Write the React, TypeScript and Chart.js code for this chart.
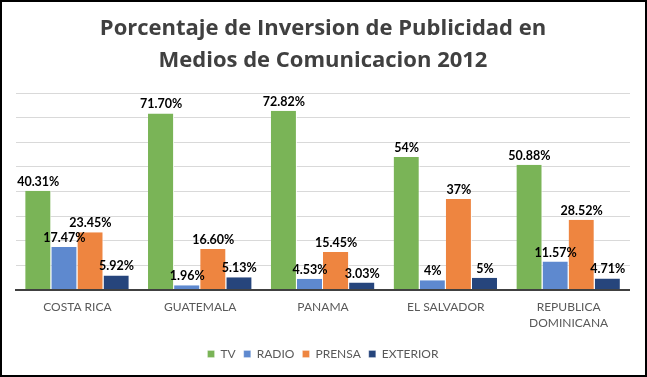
import React, { useEffect, useRef } from 'react';
import { Chart, registerables } from 'chart.js';

Chart.register(...registerables);

const titleLines = ['Porcentaje de Inversion de Publicidad en', 'Medios de Comunicacion 2012'];
const categories = [['COSTA RICA'], ['GUATEMALA'], ['PANAMA'], ['EL SALVADOR'], ['REPUBLICA', 'DOMINICANA']];
const seriesNames = ['TV', 'RADIO', 'PRENSA', 'EXTERIOR'];

const tvValues = [40.31, 71.7, 72.82, 54, 50.88];
const radioValues = [17.47, 1.96, 4.53, 4, 11.57];
const prensaValues = [23.45, 16.6, 15.45, 37, 28.52];
const exteriorValues = [5.92, 5.13, 3.03, 5, 4.71];

const tvLabels = ['40.31%', '71.70%', '72.82%', '54%', '50.88%'];
const radioLabels = ['17.47%', '1.96%', '4.53%', '4%', '11.57%'];
const prensaLabels = ['23.45%', '16.60%', '15.45%', '37%', '28.52%'];
const exteriorLabels = ['5.92%', '5.13%', '3.03%', '5%', '4.71%'];

const yMin = 0;
const yMax = 80;
const yStep = 10;

const colors = ['#7AB457', '#5E89CF', '#EE8540', '#26457C'];
const FONT = 'Lato';
const TITLE_FONT = 'Open Sans';

const allValues = [tvValues, radioValues, prensaValues, exteriorValues];
const allLabels = [tvLabels, radioLabels, prensaLabels, exteriorLabels];

const dataLabelPlugin = {
  id: 'dataLabelPlugin',
  afterDatasetsDraw(chart: any) {
    const ctx = chart.ctx;
    ctx.save();
    ctx.font = `bold 12.5px ${FONT}`;
    ctx.fillStyle = '#000000';
    ctx.textAlign = 'center';
    ctx.textBaseline = 'alphabetic';
    chart.data.datasets.forEach((ds: any, di: number) => {
      const meta = chart.getDatasetMeta(di);
      meta.data.forEach((bar: any, i: number) => {
        const txt = allLabels[di][i];
        ctx.fillText(txt, bar.x, bar.y - 5);
      });
    });
    ctx.restore();
  },
};

const baselinePlugin = {
  id: 'baselinePlugin',
  afterDatasetsDraw(chart: any) {
    const { ctx, chartArea } = chart;
    ctx.save();
    ctx.strokeStyle = '#404040';
    ctx.lineWidth = 2;
    ctx.beginPath();
    ctx.moveTo(chartArea.left - 1, chartArea.bottom);
    ctx.lineTo(chartArea.right, chartArea.bottom);
    ctx.stroke();
    ctx.restore();
  },
};

const framePlugin = {
  id: 'framePlugin',
  beforeDraw(chart: any) {
    const ctx = chart.ctx;
    ctx.save();
    ctx.fillStyle = '#ffffff';
    ctx.fillRect(0, 0, chart.width, chart.height);
    ctx.restore();
  },
  afterDraw(chart: any) {
    const ctx = chart.ctx;
    ctx.save();
    ctx.strokeStyle = '#000000';
    ctx.lineWidth = 2;
    ctx.strokeRect(1, 1, chart.width - 2, chart.height - 2);
    ctx.restore();
  },
};

export default function App() {
  const ref = useRef<HTMLCanvasElement | null>(null);

  useEffect(() => {
    if (!ref.current) return;
    const chart = new Chart(ref.current, {
      type: 'bar',
      data: {
        labels: categories,
        datasets: seriesNames.map((name, i) => ({
          label: name,
          data: allValues[i],
          backgroundColor: colors[i],
          borderColor: '#ffffff',
          borderWidth: { left: 0, right: 1, top: 0, bottom: 0 },
          borderSkipped: false,
          categoryPercentage: 0.85,
          barPercentage: 1,
        })),
      },
      options: {
        animation: false,
        responsive: false,
        devicePixelRatio: 1,
        layout: { padding: { left: 16, right: 17, top: 0, bottom: 7 } },
        plugins: {
          title: {
            display: true,
            text: titleLines,
            color: '#404040',
            font: { family: TITLE_FONT, size: 22, weight: 'bold', lineHeight: 32 / 22 },
            padding: { top: 13, bottom: 16 },
          },
          legend: {
            display: true,
            position: 'bottom',
            labels: {
              boxWidth: 7,
              boxHeight: 7,
              color: '#595959',
              font: { family: FONT, size: 12 },
              padding: 8,
            },
          },
          tooltip: { enabled: false },
        },
        scales: {
          x: {
            grid: { display: false, drawTicks: false },
            border: { display: false },
            ticks: {
              color: '#595959',
              font: { family: FONT, size: 12, lineHeight: 16 / 12 },
              padding: 9,
              maxRotation: 0,
              autoSkip: false,
            },
          },
          y: {
            min: yMin,
            max: yMax,
            ticks: { display: false, stepSize: yStep },
            grid: { color: '#D9D9D9', lineWidth: 1, drawTicks: false },
            border: { display: false },
          },
        },
      },
      plugins: [framePlugin, baselinePlugin, dataLabelPlugin],
    } as any);
    return () => chart.destroy();
  }, []);

  return (
    <div style={{ position: 'fixed', left: 0, top: 0, width: 647, height: 377, background: '#fff' }}>
      <canvas ref={ref} width={647} height={377} style={{ width: 647, height: 377, display: 'block' }} />
    </div>
  );
}
